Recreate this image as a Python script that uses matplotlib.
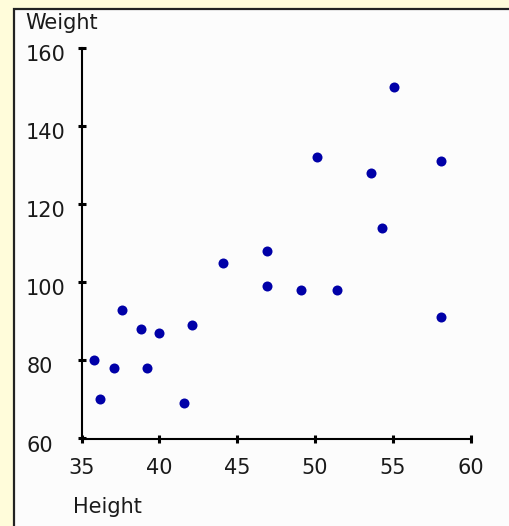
import matplotlib.pyplot as plt
from matplotlib.patches import Rectangle
from matplotlib.transforms import ScaledTranslation

height = [35.8, 36.2, 37.1, 37.6, 38.8, 39.2, 40.0, 41.6, 42.1, 44.1,
          46.9, 46.9, 49.1, 50.1, 51.4, 53.6, 54.3, 55.1, 58.1, 58.1]
weight = [80, 70, 78, 93, 88, 78, 87, 69, 89, 105,
          108, 99, 98, 132, 98, 128, 114, 150, 131, 91]

x_ticks = [35, 40, 45, 50, 55, 60]
y_ticks = [60, 80, 100, 120, 140, 160]

W, H = 510, 526
fig = plt.figure(figsize=(W / 100, H / 100), dpi=100)
fig.patch.set_facecolor("#FFFCDA")

# white panel with a dark border on the top and left
panel = Rectangle((14 / W, -0.1), 1.2, 1.1 - 9 / H, transform=fig.transFigure,
                  facecolor="#FCFCFC", edgecolor="#222222", linewidth=1.6,
                  zorder=0)
fig.add_artist(panel)

ax = fig.add_axes([81.7 / W, 1 - 438.5 / H, 389 / W, 390.5 / H])
ax.set_facecolor("none")
ax.scatter(height, weight, s=52, color="#0000A8", marker="o", zorder=3,
           linewidths=0)

ax.set_xlim(35, 60)
ax.set_ylim(60, 160)
ax.set_xticks(x_ticks)
ax.set_yticks(y_ticks)

for side in ["top", "right"]:
    ax.spines[side].set_visible(False)
for side in ["left", "bottom"]:
    ax.spines[side].set_linewidth(1.5)
    ax.spines[side].set_color("black")

ax.tick_params(axis="both", direction="inout", length=6, width=2.2,
               color="black", labelsize=15, labelcolor="#1a1a1a")
ax.tick_params(axis="x", pad=11)
ax.tick_params(axis="y", pad=37)
for lab in ax.get_yticklabels():
    lab.set_horizontalalignment("left")
    lab.set_transform(lab.get_transform() +
                      ScaledTranslation(0, -5 / 100, fig.dpi_scale_trans))

fig.text(25 / W, 1 - 23 / H, "Weight", fontsize=15, color="#1a1a1a",
         ha="left", va="center")
fig.text(73 / W, 1 - 507 / H, "Height", fontsize=15, color="#1a1a1a",
         ha="left", va="center")

fig.savefig("out.png", dpi=100, facecolor=fig.get_facecolor())
